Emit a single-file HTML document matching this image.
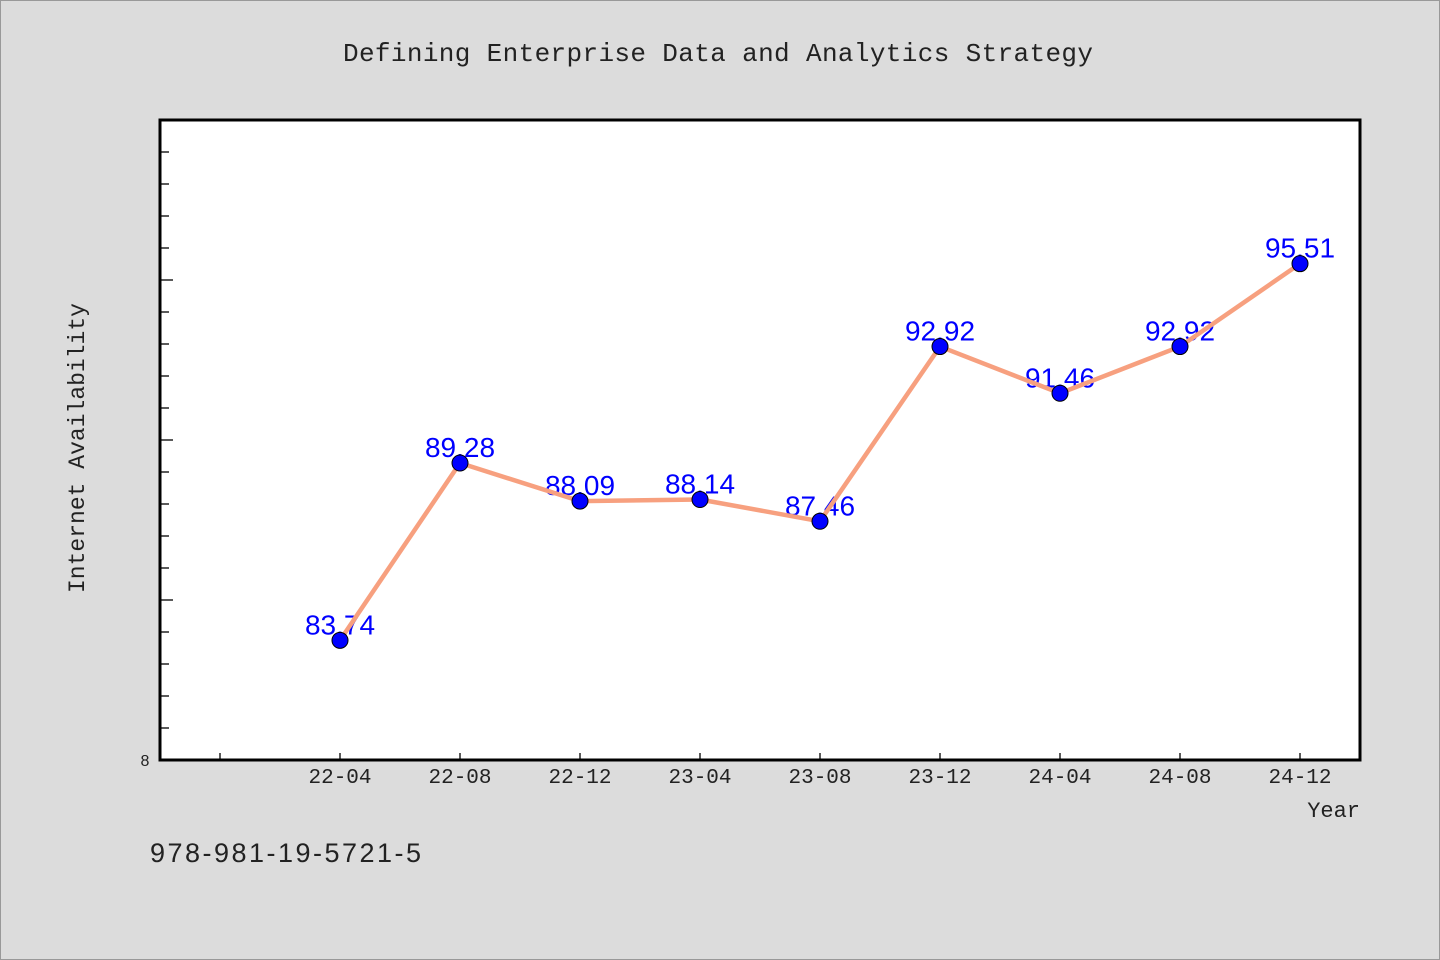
<!DOCTYPE html>
<html><head><meta charset="utf-8"><style>
body{margin:0;background:#dcdcdc;}
svg{display:block;}
</style></head><body>
<svg width="1440" height="960" viewBox="0 0 1440 960">
<rect x="0.5" y="0.5" width="1439" height="959" fill="#dcdcdc" stroke="#999"/>
<text x="718" y="61" text-anchor="middle" font-family="Liberation Mono, monospace" font-size="26" fill="#222" textLength="750">Defining Enterprise Data and Analytics Strategy</text>
<rect x="160" y="120" width="1200" height="640" fill="#fff" stroke="#000" stroke-width="3"/>
<g id="yticks"></g>
<g id="xticks"></g>
<text x="145" y="766" text-anchor="middle" font-family="Liberation Sans, sans-serif" font-size="16" fill="#222">8</text>
<text transform="translate(84,448) rotate(-90)" text-anchor="middle" font-family="Liberation Mono, monospace" font-size="23" fill="#222" textLength="290">Internet Availability</text>
<text x="1360" y="817" text-anchor="end" font-family="Liberation Mono, monospace" font-size="22" fill="#222">Year</text>
<text x="150" y="862" font-family="Liberation Sans, sans-serif" font-size="27" fill="#222" textLength="271">978-981-19-5721-5</text>
<g id="labels"></g>
<g id="series"></g>
</svg>
<script>
const categories=["22-04","22-08","22-12","23-04","23-08","23-12","24-04","24-08","24-12"];
const values=[83.74,89.28,88.09,88.14,87.46,92.92,91.46,92.92,95.51];
const yMin=80,yMax=100;
const NS="http://www.w3.org/2000/svg";
function x(i){return 340+120*i;}
function y(v){return 760-(v-yMin)/(yMax-yMin)*640;}
function mk(t,a,p){const e=document.createElementNS(NS,t);for(const k in a)e.setAttribute(k,a[k]);p.appendChild(e);return e;}
const yt=document.getElementById('yticks');
for(let v=yMin+1;v<yMax;v++){
  const l=mk('line',{x1:161,x2:(v%5===0)?173:169,y1:y(v),y2:y(v),stroke:'#000','stroke-width':1.3},yt);
  
  
}
const xt=document.getElementById('xticks');
for(let i=-1;i<categories.length;i++){
  const t=mk('line',{x1:x(i),x2:x(i),y1:753,y2:759,stroke:'#000','stroke-width':1.3},xt);
  
  
  if(i>=0){
    const tx=mk('text',{x:x(i),y:783,'text-anchor':'middle','font-family':'Liberation Mono, monospace','font-size':21,fill:'#222'},xt);
    tx.textContent=categories[i];
    
    
  }
}
const lg=document.getElementById('labels');
values.forEach((v,i)=>{
  const t=mk('text',{x:x(i),y:y(v)-6,'text-anchor':'middle','font-family':'Liberation Sans, sans-serif','font-size':28,fill:'#0000ff'},lg);
  t.textContent=v.toFixed(2);
  
  
});
const sg=document.getElementById('series');
const line=mk('polyline',{points:values.map((v,i)=>x(i)+','+y(v)).join(' '),fill:'none',stroke:'#f7a07f','stroke-width':4.5,'stroke-linejoin':'round'},sg);


values.forEach((v,i)=>{
  const c=mk('circle',{cx:x(i),cy:y(v),r:8,fill:'#0000ff',stroke:'#000','stroke-width':1},sg);
  
  
});
</script>
</body></html>
